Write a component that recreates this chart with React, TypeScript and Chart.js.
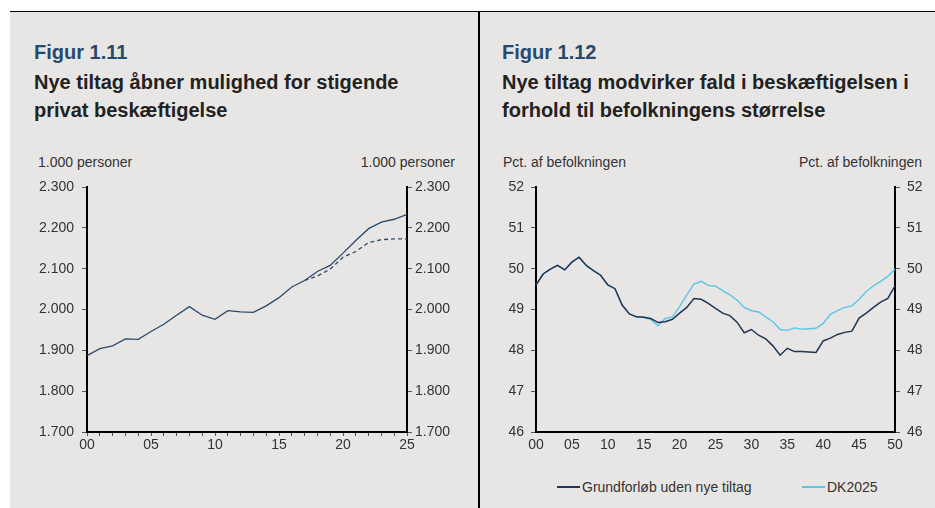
import React, { useEffect, useRef } from "react";
import { Chart, registerables } from "chart.js";

Chart.register(...registerables);

const yearsLeft = ["00","01","02","03","04","05","06","07","08","09","10","11","12","13","14","15","16","17","18","19","20","21","22","23","24","25"];
const privatNyeTiltag = [1887,1904,1911,1928,1927,1946,1964,1986,2007,1986,1976,1997,1994,1993,2009,2029,2055,2071,2093,2108,2138,2169,2198,2214,2221,2233];
const privatGrundforloeb = [null,null,null,null,null,null,null,null,null,null,null,null,null,null,null,null,null,2071,2082,2099,2128,2142,2164,2171,2173,2173];
const leftTicks = [1700, 1800, 1900, 2000, 2100, 2200, 2300];

const yearsRight = ["00","01","02","03","04","05","06","07","08","09","10","11","12","13","14","15","16","17","18","19","20","21","22","23","24","25","26","27","28","29","30","31","32","33","34","35","36","37","38","39","40","41","42","43","44","45","46","47","48","49","50"];
const grundforloeb = [49.60,49.87,49.99,50.08,49.97,50.16,50.28,50.08,49.95,49.84,49.60,49.51,49.11,48.89,48.82,48.81,48.78,48.68,48.70,48.76,48.91,49.05,49.27,49.25,49.15,49.03,48.91,48.85,48.69,48.43,48.51,48.37,48.28,48.11,47.88,48.05,47.97,47.97,47.96,47.95,48.23,48.30,48.39,48.44,48.47,48.79,48.91,49.05,49.18,49.27,49.58];
const dk2025 = [49.60,49.87,49.99,50.08,49.97,50.16,50.28,50.08,49.95,49.84,49.60,49.51,49.11,48.89,48.82,48.81,48.75,48.60,48.78,48.82,49.07,49.36,49.62,49.69,49.59,49.57,49.46,49.36,49.23,49.05,48.97,48.94,48.82,48.70,48.51,48.49,48.55,48.52,48.53,48.54,48.66,48.88,48.97,49.05,49.09,49.25,49.44,49.58,49.69,49.81,49.99];
const rightTicks = [46, 47, 48, 49, 50, 51, 52];

const FONT = "'Liberation Sans', Arial, sans-serif";
const BG = "#e8e6e4";
const TEXT = "#333333";
const TICK_SIZE = 14;

function fixWidth(w: number) {
  return (scale: any) => { scale.width = w; };
}
function fixHeight(h: number) {
  return (scale: any) => { scale.height = h; };
}

function yAxis(position: "left" | "right", min: number, max: number, step: number, width: number, fmt: (v: number) => string, pad: number) {
  return {
    type: "linear" as const,
    position,
    min,
    max,
    afterFit: fixWidth(width),
    border: { display: true, color: "#000", width: 2 },
    grid: { display: true, drawOnChartArea: false, drawTicks: true, tickLength: 5, color: "#555", lineWidth: 1 },
    ticks: {
      stepSize: step,
      padding: pad,
      color: TEXT,
      font: { family: FONT, size: TICK_SIZE },
      callback: (v: any) => fmt(Number(v)),
    },
  };
}

export default function App() {
  const leftRef = useRef<HTMLCanvasElement | null>(null);
  const rightRef = useRef<HTMLCanvasElement | null>(null);

  useEffect(() => {
    document.body.style.margin = "0";
    const fmtThousand = (v: number) => (v / 1000).toFixed(3);
    const left = new Chart(leftRef.current!, {
      type: "line",
      data: {
        labels: yearsLeft,
        datasets: [
          { label: "Med nye tiltag", data: privatNyeTiltag, borderColor: "#2c4a6b", borderWidth: 1.3, pointRadius: 0, tension: 0, yAxisID: "y" },
          { label: "Grundforløb", data: privatGrundforloeb as any, borderColor: "#2c4a6b", borderWidth: 1.3, borderDash: [4, 3], pointRadius: 0, tension: 0, yAxisID: "y" },
        ],
      },
      options: {
        responsive: false,
        animation: false,
        layout: { padding: { top: 37, bottom: 0, left: 0, right: 0 } },
        plugins: { legend: { display: false }, tooltip: { enabled: false } },
        scales: {
          x: {
            type: "category",
            offset: false,
            afterFit: fixHeight(28),
            border: { display: true, color: "#000", width: 2 },
            grid: { display: true, drawOnChartArea: false, drawTicks: true, tickLength: 4, color: "#555" },
            ticks: {
              autoSkip: false,
              maxRotation: 0,
              padding: 1,
              color: TEXT,
              font: { family: FONT, size: TICK_SIZE },
              callback: (_v: any, i: number) => (i % 5 === 0 ? yearsLeft[i] : ""),
            },
          },
          y: { ...yAxis("left", leftTicks[0], leftTicks[leftTicks.length - 1], 100, 77, fmtThousand, 8) },
          y2: { ...yAxis("right", leftTicks[0], leftTicks[leftTicks.length - 1], 100, 71, fmtThousand, 3) },
        },
      },
    });
    const right = new Chart(rightRef.current!, {
      type: "line",
      data: {
        labels: yearsRight,
        datasets: [
          { label: "Grundforløb uden nye tiltag", data: grundforloeb, borderColor: "#1f3553", borderWidth: 1.5, pointRadius: 0, tension: 0, yAxisID: "y" },
          { label: "DK2025", data: dk2025, borderColor: "#5cc6ea", borderWidth: 1.4, pointRadius: 0, tension: 0, yAxisID: "y" },
        ],
      },
      options: {
        responsive: false,
        animation: false,
        layout: { padding: { top: 37, bottom: 0, left: 0, right: 0 } },
        plugins: { legend: { display: false }, tooltip: { enabled: false } },
        scales: {
          x: {
            type: "category",
            offset: false,
            afterFit: fixHeight(28),
            border: { display: true, color: "#000", width: 2 },
            grid: { display: false, drawTicks: false },
            ticks: {
              autoSkip: false,
              maxRotation: 0,
              padding: 5,
              color: TEXT,
              font: { family: FONT, size: TICK_SIZE },
              callback: (_v: any, i: number) => (i % 5 === 0 ? yearsRight[i] : ""),
            },
          },
          y: { ...yAxis("left", rightTicks[0], rightTicks[rightTicks.length - 1], 1, 55, (v) => String(v), 7) },
          y2: { ...yAxis("right", rightTicks[0], rightTicks[rightTicks.length - 1], 1, 40, (v) => String(v), 7) },
        },
      },
    });
    return () => {
      left.destroy();
      right.destroy();
    };
  }, []);

  const abs = (s: React.CSSProperties): React.CSSProperties => ({ position: "absolute", ...s });
  const titleStyle: React.CSSProperties = { fontFamily: FONT, fontWeight: "bold", fontSize: 20, color: "#222", lineHeight: "28px", whiteSpace: "nowrap" };
  const figStyle: React.CSSProperties = { fontFamily: FONT, fontWeight: "bold", fontSize: 20, color: "#27496d", lineHeight: "22px", whiteSpace: "nowrap" };
  const small: React.CSSProperties = { fontFamily: FONT, fontSize: TICK_SIZE, color: TEXT, lineHeight: "16px", whiteSpace: "nowrap" };

  return (
    <div style={{ position: "relative", width: 935, height: 508, background: "#fff", overflow: "hidden" }}>
      <div style={abs({ left: 10, top: 11, width: 925, height: 497, background: BG })} />
      <div style={abs({ left: 10, top: 11, width: 925, height: 1, background: "#000" })} />
      <div style={abs({ left: 478, top: 11, width: 2, height: 497, background: "#000" })} />

      <div style={abs({ left: 34, top: 41, ...figStyle })}>Figur 1.11</div>
      <div style={abs({ left: 34, top: 68, ...titleStyle })}>
        Nye tiltag åbner mulighed for stigende<br />privat beskæftigelse
      </div>
      <div style={abs({ left: 38, top: 154, ...small })}>1.000 personer</div>
      <div style={abs({ left: 300, top: 154, width: 155, textAlign: "right", ...small })}>1.000 personer</div>

      <div style={abs({ left: 502, top: 41, ...figStyle })}>Figur 1.12</div>
      <div style={abs({ left: 502, top: 68, ...titleStyle })}>
        Nye tiltag modvirker fald i beskæftigelsen i<br />forhold til befolkningens størrelse
      </div>
      <div style={abs({ left: 503, top: 154, ...small })}>Pct. af befolkningen</div>
      <div style={abs({ left: 722, top: 154, width: 200, textAlign: "right", ...small })}>Pct. af befolkningen</div>

      <canvas ref={leftRef} width={468} height={310} style={abs({ left: 10, top: 150, width: 468, height: 310 })} />
      <canvas ref={rightRef} width={454} height={310} style={abs({ left: 481, top: 150, width: 454, height: 310 })} />

      <div style={abs({ left: 557, top: 486, width: 23, height: 1.5, background: "#1f3553" })} />
      <div style={abs({ left: 582, top: 479, ...small })}>Grundforløb uden nye tiltag</div>
      <div style={abs({ left: 802, top: 486, width: 23, height: 1.5, background: "#5cc6ea" })} />
      <div style={abs({ left: 827, top: 479, ...small })}>DK2025</div>
    </div>
  );
}
